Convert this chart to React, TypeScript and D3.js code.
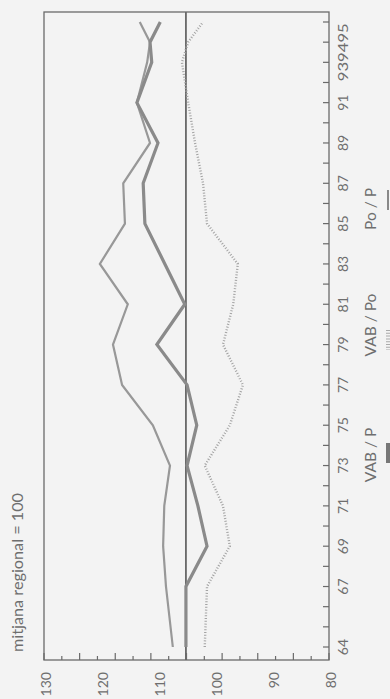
import React from "react";
import * as d3 from "d3";

const years = [64, 67, 69, 71, 73, 75, 77, 79, 81, 83, 85, 87, 89, 91, 93, 94, 95];
const vabP = [105.1, 105.1, 101.4, 103.0, 104.9, 103.2, 104.9, 110.2, 105.3, 108.8, 112.3, 112.6, 110.0, 113.7, 111.1, 111.4, 109.6];
const vabPo = [101.8, 101.4, 97.4, 98.6, 101.8, 97.4, 95.1, 98.6, 96.8, 96.0, 101.4, 102.1, 103.5, 104.7, 105.8, 104.7, 102.1];
const poP = [107.4, 108.6, 109.1, 108.9, 107.9, 110.9, 116.3, 117.9, 115.3, 120.2, 115.8, 116.1, 111.4, 113.7, 111.9, 111.4, 113.2];

const valueLabels = [130, 120, 110, 100, 90, 80];
const yearLabelValues = [64, 67, 69, 71, 73, 75, 77, 79, 81, 83, 85, 87, 89, 91, 93.5];
const yearLabelTexts = ["64", "67", "69", "71", "73", "75", "77", "79", "81", "83", "85", "87", "89", "91", "939495"];
const tickYears = d3.range(64, 96);
const referenceValue = 105.1;
const valueTickCount = 16;
const title = "mitjana regional = 100";
const legendNames = ["VAB / P", "VAB / Po", "Po / P"];

const W = 390;
const H = 699;
const frame = { left: 44, right: 329, top: 12, bottom: 660 };

export default function App() {
  const x = d3.scaleLinear().domain([130, 80]).range([frame.left, frame.right]);
  const y = d3.scaleLinear().domain([64, 95]).range([647, 22]);

  const lineGen = (vals: number[]) =>
    d3
      .line<number>()
      .x((v) => x(v))
      .y((_, i) => y(years[i]))(vals) as string;

  const valueTicks = d3.range(0, valueTickCount + 1).map((i) => 130 - (i * 50) / valueTickCount);
  const font = "Lato, 'Open Sans', sans-serif";
  const textColor = "#6e6e6e";

  return (
    <svg
      width={W}
      height={H}
      style={{ position: "absolute", left: 0, top: 0, background: "#f3f3f3" }}
      fontFamily={font}
    >
      <rect x={0} y={0} width={W} height={H} fill="#f3f3f3" />
      {/* reference line */}
      <line x1={x(referenceValue)} x2={x(referenceValue)} y1={frame.top} y2={frame.bottom} stroke="#555" strokeWidth={1.6} />
      {/* series */}
      <path d={lineGen(vabPo)} fill="none" stroke="#a3a3a3" strokeWidth={2.4} strokeDasharray="1 1.8" />
      <path d={lineGen(poP)} fill="none" stroke="#989898" strokeWidth={2.2} strokeLinejoin="miter" />
      <path d={lineGen(vabP)} fill="none" stroke="#8a8a8a" strokeWidth={3.2} strokeLinejoin="miter" />
      {/* frame */}
      <rect
        x={frame.left}
        y={frame.top}
        width={frame.right - frame.left}
        height={frame.bottom - frame.top}
        fill="none"
        stroke="#6a6a6a"
        strokeWidth={1.3}
      />
      {/* value ticks */}
      {valueTicks.map((v, i) => (
        <line
          key={"vt" + i}
          x1={x(v)}
          x2={x(v)}
          y1={frame.bottom}
          y2={frame.bottom - (i % 2 === 0 ? 7 : 4)}
          stroke="#6a6a6a"
          strokeWidth={1.2}
        />
      ))}
      {/* year ticks */}
      {tickYears.map((yr) => (
        <line key={"yt" + yr} x1={frame.right} x2={frame.right - 6} y1={y(yr)} y2={y(yr)} stroke="#6a6a6a" strokeWidth={1.2} />
      ))}
      {/* value labels */}
      {valueLabels.map((v) => (
        <text
          key={"vl" + v}
          transform={`translate(${x(v) + 1},672) rotate(-90)`}
          textAnchor="end"
          dominantBaseline="central"
          fontSize={14}
          fill={textColor}
        >
          {v}
        </text>
      ))}
      {/* year labels */}
      {yearLabelValues.map((v, i) => (
        <text
          key={"yl" + i}
          transform={`translate(342,${y(v)}) rotate(-90)`}
          textAnchor="middle"
          dominantBaseline="central"
          fontSize={14}
          fill={textColor}
          {...(yearLabelTexts[i].length > 2 ? { textLength: 58, lengthAdjust: "spacingAndGlyphs" } : {})}
        >
          {yearLabelTexts[i]}
        </text>
      ))}
      {/* title */}
      <text
        transform="translate(17,652) rotate(-90)"
        textAnchor="start"
        dominantBaseline="central"
        fontSize={15.5}
        fill={textColor}
        textLength={159}
        lengthAdjust="spacingAndGlyphs"
      >
        {title}
      </text>
      {/* legend */}
      <text transform="translate(370,455) rotate(-90)" textAnchor="middle" dominantBaseline="central" fontSize={15.5} fill={textColor}>
        {legendNames[0]}
      </text>
      <line x1={388} x2={388} y1={443} y2={463} stroke="#777" strokeWidth={4} />
      <text transform="translate(370,325) rotate(-90)" textAnchor="middle" dominantBaseline="central" fontSize={15.5} fill={textColor}>
        {legendNames[1]}
      </text>
      <line x1={388} x2={388} y1={330} y2={350} stroke="#aaa" strokeWidth={4} strokeDasharray="1 1.8" />
      <text transform="translate(370,209) rotate(-90)" textAnchor="middle" dominantBaseline="central" fontSize={15.5} fill={textColor}>
        {legendNames[2]}
      </text>
      <line x1={388} x2={388} y1={190} y2={210} stroke="#888" strokeWidth={2} />
    </svg>
  );
}
